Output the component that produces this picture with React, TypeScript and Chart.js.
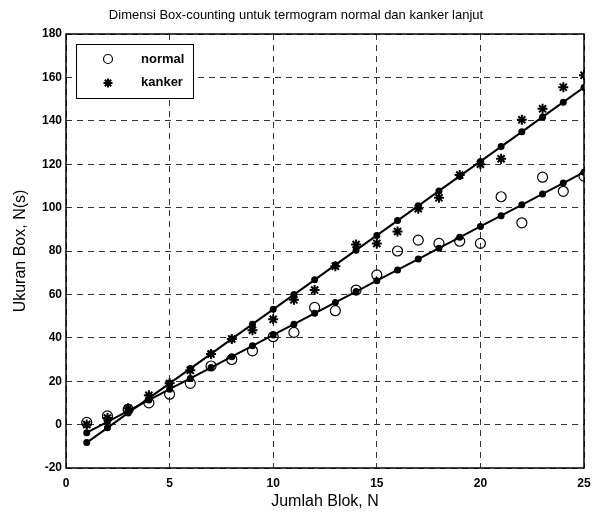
import React, { useEffect, useRef } from "react";
import { Chart, registerables } from "chart.js";

Chart.register(...registerables);

const titleText = "Dimensi Box-counting untuk termogram normal dan kanker lanjut";
const xTitle = "Jumlah Blok, N";
const yTitle = "Ukuran Box, N(s)";
const legendLabels = ["normal", "kanker"];

const blocks = [1, 2, 3, 4, 5, 6, 7, 8, 9, 10, 11, 12, 13, 14, 15, 16, 17, 18, 19, 20, 21, 22, 23, 24, 25];
const normalValues = [1, 4, 7, 10, 14, 19, 27, 30, 34, 40.5, 42.5, 54, 52.5, 62, 69, 80, 85, 83.5, 84.5, 83.5, 105, 93, 114, 107.5, 114.5];
const kankerValues = [0, 3, 7.5, 13.5, 19, 25, 32.5, 39.5, 43.5, 48.5, 57.5, 62, 73, 83, 83.5, 89, 99.5, 104.5, 115, 120, 122.5, 140.5, 145.5, 155.5, 161];
const normalFit = [-3.7, 1.3, 6.3, 11.3, 16.3, 21.3, 26.3, 31.3, 36.3, 41.3, 46.3, 51.3, 56.3, 61.3, 66.3, 71.3, 76.3, 81.3, 86.3, 91.3, 96.3, 101.3, 106.3, 111.3, 116.3];
const kankerFit = [-8.3, -1.5, 5.4, 12.2, 19.0, 25.8, 32.6, 39.5, 46.3, 53.1, 59.9, 66.7, 73.6, 80.4, 87.2, 94.0, 100.8, 107.7, 114.5, 121.3, 128.1, 134.9, 141.8, 148.6, 155.4];

const FONT = "Arial, 'Liberation Sans', sans-serif";

const pts = (ys: number[]) => blocks.map((x, i) => ({ x, y: ys[i] }));

const decorPlugin = {
  id: "decor",
  afterDraw(chart: any) {
    const { ctx, chartArea } = chart;
    const { left, top, right, bottom } = chartArea;
    ctx.save();
    // frame
    ctx.strokeStyle = "#000";
    ctx.lineWidth = 1.5;
    ctx.setLineDash([]);
    ctx.strokeRect(left, top, right - left, bottom - top);
    // title
    ctx.fillStyle = "#000";
    ctx.font = `13px ${FONT}`;
    ctx.textAlign = "center";
    ctx.textBaseline = "middle";
    ctx.fillText(titleText, 296, 15);
    // legend
    const lx = 76, ly = 44, lw = 117, lh = 54;
    ctx.fillStyle = "#fff";
    ctx.fillRect(lx, ly, lw, lh);
    ctx.strokeStyle = "#000";
    ctx.lineWidth = 1;
    ctx.strokeRect(lx + 0.5, ly + 0.5, lw, lh);
    // circle marker
    ctx.beginPath();
    ctx.arc(108, 59, 4.5, 0, Math.PI * 2);
    ctx.lineWidth = 1.2;
    ctx.stroke();
    // star marker
    const sx = 108, sy = 83, r = 4.5;
    ctx.lineWidth = 2;
    ctx.beginPath();
    for (let k = 0; k < 4; k++) {
      const a = (k * Math.PI) / 4;
      ctx.moveTo(sx - r * Math.cos(a), sy - r * Math.sin(a));
      ctx.lineTo(sx + r * Math.cos(a), sy + r * Math.sin(a));
    }
    ctx.stroke();
    ctx.fillStyle = "#000";
    ctx.font = `bold 13px ${FONT}`;
    ctx.textAlign = "left";
    ctx.textBaseline = "middle";
    ctx.fillText(legendLabels[0], 141, 59);
    ctx.fillText(legendLabels[1], 141, 82);
    ctx.restore();
  },
};

export default function App() {
  const ref = useRef<HTMLCanvasElement | null>(null);
  useEffect(() => {
    if (!ref.current) return;
    const chart = new Chart(ref.current, {
      type: "scatter",
      data: {
        datasets: [
          {
            label: "normal fit",
            data: pts(normalFit),
            showLine: true,
            borderColor: "#000",
            backgroundColor: "#000",
            borderWidth: 2,
            pointRadius: 2.5,
            pointStyle: "circle",
          },
          {
            label: "kanker fit",
            data: pts(kankerFit),
            showLine: true,
            borderColor: "#000",
            backgroundColor: "#000",
            borderWidth: 2,
            pointRadius: 2.5,
            pointStyle: "circle",
          },
          {
            label: legendLabels[0],
            data: pts(normalValues),
            showLine: false,
            borderColor: "#000",
            backgroundColor: "rgba(255,255,255,0)",
            pointBorderWidth: 1.2,
            pointRadius: 5,
            pointStyle: "circle",
          },
          {
            label: legendLabels[1],
            data: pts(kankerValues),
            showLine: false,
            borderColor: "#000",
            backgroundColor: "#000",
            pointBorderWidth: 2,
            pointRadius: 5,
            pointStyle: "star",
          },
        ],
      },
      options: {
        animation: false,
        responsive: false,
        maintainAspectRatio: false,
        layout: { padding: { left: 0, right: 8, top: 34, bottom: 0 } },
        plugins: { legend: { display: false }, tooltip: { enabled: false }, title: { display: false } },
        scales: {
          x: {
            type: "linear",
            min: 0,
            max: 25,
            afterFit: (s: any) => {
              s.height = 51;
              s.paddingLeft = 0;
              s.paddingRight = 0;
            },
            ticks: { stepSize: 5, color: "#000", font: { family: FONT, size: 12, weight: "bold" }, padding: 8, maxRotation: 0 },
            grid: { color: "#333", lineWidth: 1, drawTicks: false },
            border: { display: false, dash: [6, 5] },
            title: { display: true, text: xTitle, color: "#000", font: { family: FONT, size: 16 }, padding: { top: 0, bottom: 8 } },
          },
          y: {
            type: "linear",
            min: -20,
            max: 180,
            afterFit: (s: any) => {
              s.width = 66;
            },
            ticks: { stepSize: 20, color: "#000", font: { family: FONT, size: 12, weight: "bold" }, padding: 4 },
            grid: { color: "#333", lineWidth: 1, drawTicks: false },
            border: { display: false, dash: [6, 5] },
            title: { display: true, text: yTitle, color: "#000", font: { family: FONT, size: 16 }, padding: { top: 11, bottom: 0 } },
          },
        },
      },
      plugins: [decorPlugin],
    });
    return () => chart.destroy();
  }, []);
  return (
    <div style={{ position: "fixed", left: 0, top: 0, width: 592, height: 519, background: "#fff" }}>
      <canvas ref={ref} width={592} height={519} style={{ display: "block", width: 592, height: 519 }} />
    </div>
  );
}
